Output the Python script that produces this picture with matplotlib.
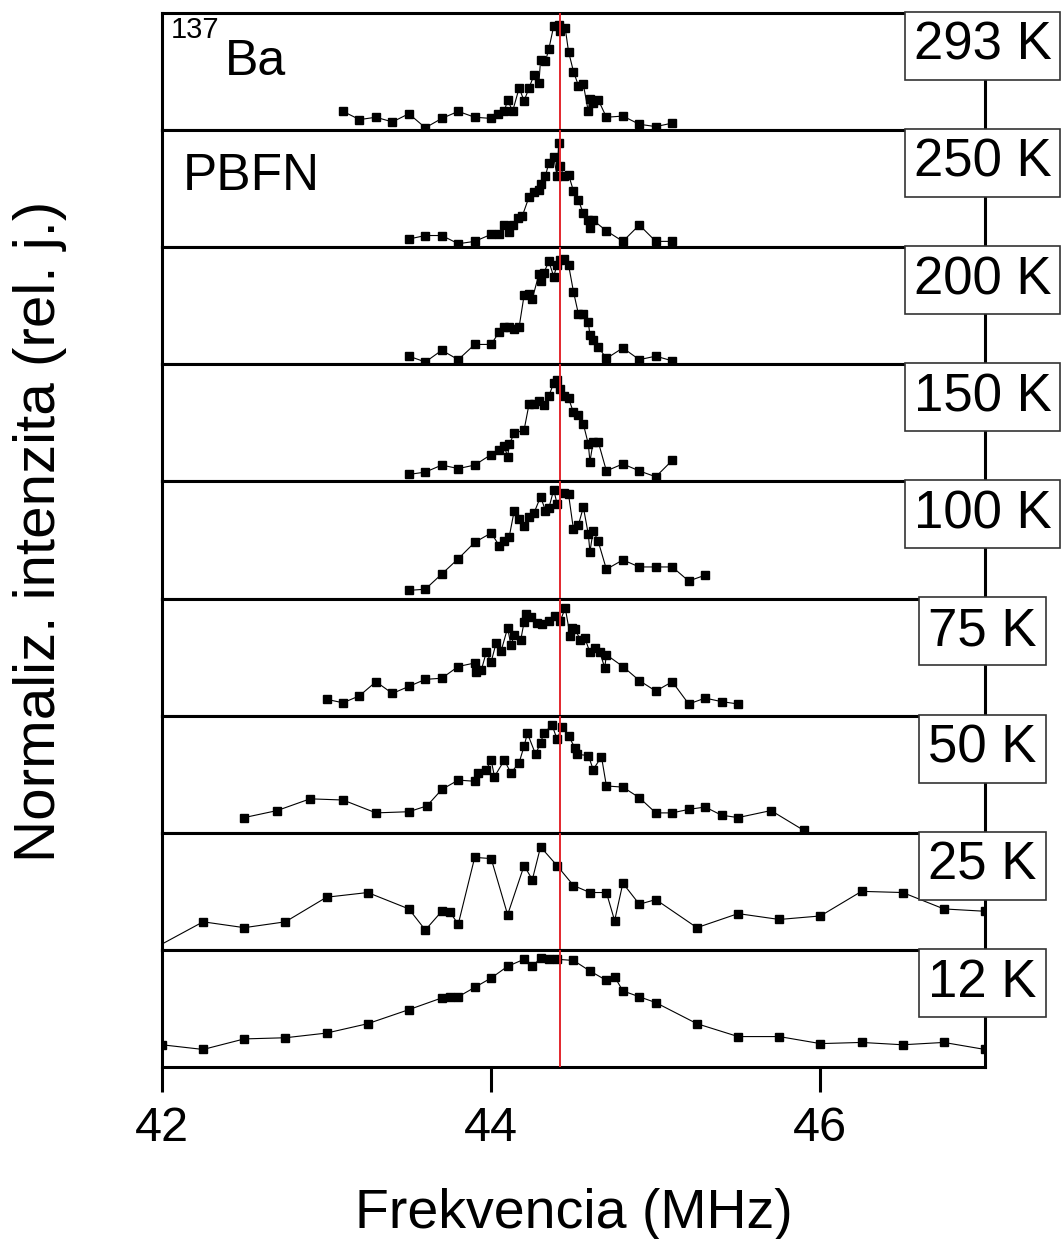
import matplotlib
matplotlib.use("Agg")
import matplotlib.pyplot as plt

plt.rcParams['font.family'] = ['Liberation Sans', 'DejaVu Sans']

# data (frequency in MHz, normalized intensity 0..1)
temps = ["293 K", "250 K", "200 K", "150 K", "100 K", "75 K", "50 K", "25 K", "12 K"]

f293 = [43.10, 43.20, 43.30, 43.40, 43.50, 43.60, 43.70, 43.80, 43.90, 44.00,
        44.04, 44.08, 44.10, 44.13, 44.17, 44.20, 44.23, 44.26, 44.29, 44.30,
        44.33, 44.35, 44.38, 44.41, 44.42, 44.45, 44.47, 44.50, 44.53, 44.56,
        44.59, 44.60, 44.62, 44.65, 44.70, 44.80, 44.90, 45.00, 45.10]
i293 = [0.16, 0.09, 0.11, 0.07, 0.14, 0.02, 0.10, 0.16, 0.11, 0.10,
        0.14, 0.16, 0.26, 0.16, 0.36, 0.25, 0.36, 0.47, 0.40, 0.60,
        0.59, 0.69, 0.89, 0.90, 0.85, 0.87, 0.67, 0.50, 0.38, 0.39,
        0.16, 0.27, 0.23, 0.26, 0.11, 0.12, 0.05, 0.03, 0.06]

f250 = [43.50, 43.60, 43.70, 43.80, 43.90, 44.00, 44.05, 44.08, 44.11, 44.13,
        44.16, 44.19, 44.23, 44.26, 44.29, 44.30, 44.33, 44.35, 44.38, 44.40,
        44.41, 44.42, 44.44, 44.47, 44.50, 44.53, 44.56, 44.59, 44.60, 44.62,
        44.70, 44.80, 44.90, 45.00, 45.10]
i250 = [0.07, 0.10, 0.10, 0.03, 0.05, 0.11, 0.11, 0.19, 0.13, 0.19,
        0.25, 0.27, 0.43, 0.47, 0.49, 0.54, 0.61, 0.72, 0.77, 0.61,
        0.89, 0.69, 0.61, 0.62, 0.48, 0.40, 0.29, 0.23, 0.16, 0.23,
        0.14, 0.05, 0.19, 0.05, 0.05]

f200 = [43.50, 43.60, 43.70, 43.80, 43.90, 44.00, 44.05, 44.08, 44.11, 44.14,
        44.17, 44.20, 44.23, 44.25, 44.29, 44.30, 44.32, 44.35, 44.38, 44.40,
        44.42, 44.44, 44.47, 44.50, 44.53, 44.56, 44.59, 44.60, 44.62, 44.65,
        44.70, 44.80, 44.90, 45.00, 45.10]
i200 = [0.07, 0.02, 0.12, 0.04, 0.17, 0.17, 0.28, 0.32, 0.32, 0.30,
        0.32, 0.59, 0.60, 0.56, 0.77, 0.71, 0.78, 0.88, 0.75, 0.85,
        0.89, 0.90, 0.85, 0.62, 0.43, 0.43, 0.36, 0.25, 0.21, 0.15,
        0.05, 0.14, 0.04, 0.07, 0.03]

f150 = [43.50, 43.60, 43.70, 43.80, 43.90, 44.00, 44.05, 44.08, 44.10, 44.11,
        44.14, 44.20, 44.23, 44.26, 44.29, 44.32, 44.35, 44.38, 44.40, 44.42,
        44.44, 44.47, 44.50, 44.53, 44.56, 44.59, 44.60, 44.62, 44.65, 44.70,
        44.80, 44.90, 45.00, 45.10]
i150 = [0.06, 0.08, 0.14, 0.11, 0.14, 0.23, 0.27, 0.30, 0.21, 0.32,
        0.41, 0.44, 0.66, 0.66, 0.69, 0.65, 0.73, 0.84, 0.87, 0.79,
        0.73, 0.71, 0.59, 0.57, 0.49, 0.32, 0.17, 0.34, 0.34, 0.09,
        0.15, 0.09, 0.04, 0.18]

f100 = [43.50, 43.60, 43.70, 43.80, 43.90, 44.00, 44.05, 44.08, 44.11, 44.14,
        44.17, 44.20, 44.23, 44.26, 44.30, 44.33, 44.35, 44.38, 44.40, 44.44,
        44.47, 44.50, 44.53, 44.56, 44.59, 44.60, 44.62, 44.65, 44.70, 44.80,
        44.90, 45.00, 45.10, 45.20, 45.30]
i100 = [0.07, 0.08, 0.21, 0.34, 0.48, 0.56, 0.45, 0.49, 0.53, 0.75,
        0.68, 0.62, 0.70, 0.73, 0.87, 0.75, 0.77, 0.93, 0.81, 0.90,
        0.89, 0.59, 0.63, 0.78, 0.55, 0.40, 0.58, 0.49, 0.25, 0.33,
        0.27, 0.27, 0.27, 0.15, 0.20]

f75 = [43.00, 43.10, 43.20, 43.30, 43.40, 43.50, 43.60, 43.70, 43.80, 43.90,
       43.91, 43.94, 43.97, 44.00, 44.03, 44.06, 44.10, 44.12, 44.14, 44.18,
       44.20, 44.21, 44.24, 44.28, 44.31, 44.35, 44.39, 44.42, 44.45, 44.48,
       44.49, 44.51, 44.54, 44.57, 44.60, 44.63, 44.66, 44.69, 44.70, 44.80,
       44.90, 45.00, 45.10, 45.20, 45.30, 45.40, 45.50]
i75 = [0.14, 0.11, 0.17, 0.29, 0.19, 0.25, 0.31, 0.32, 0.42, 0.45,
       0.37, 0.39, 0.54, 0.46, 0.62, 0.55, 0.75, 0.60, 0.69, 0.65,
       0.80, 0.87, 0.84, 0.79, 0.78, 0.81, 0.85, 0.81, 0.92, 0.68,
       0.75, 0.74, 0.65, 0.66, 0.54, 0.58, 0.54, 0.41, 0.52, 0.42,
       0.30, 0.21, 0.29, 0.10, 0.15, 0.12, 0.10]

f50 = [42.50, 42.70, 42.90, 43.10, 43.30, 43.50, 43.61, 43.70, 43.80, 43.90,
       43.92, 43.97, 44.00, 44.02, 44.08, 44.12, 44.17, 44.20, 44.22, 44.27,
       44.30, 44.32, 44.37, 44.40, 44.43, 44.47, 44.51, 44.52, 44.59, 44.62,
       44.67, 44.70, 44.80, 44.90, 45.00, 45.10, 45.20, 45.30, 45.40, 45.50,
       45.70, 45.90]
i50 = [0.13, 0.19, 0.29, 0.28, 0.17, 0.18, 0.23, 0.37, 0.45, 0.44,
       0.51, 0.54, 0.62, 0.48, 0.62, 0.51, 0.60, 0.74, 0.85, 0.67,
       0.77, 0.85, 0.92, 0.80, 0.90, 0.83, 0.72, 0.67, 0.66, 0.54,
       0.65, 0.40, 0.39, 0.30, 0.17, 0.17, 0.20, 0.22, 0.15, 0.13,
       0.19, 0.02]

f25 = [41.75, 42.25, 42.50, 42.75, 43.00, 43.25, 43.50, 43.60, 43.70, 43.75,
       43.80, 43.90, 44.00, 44.10, 44.20, 44.25, 44.30, 44.40, 44.50, 44.60,
       44.70, 44.75, 44.80, 44.90, 45.00, 45.25, 45.50, 45.75, 46.00, 46.25,
       46.50, 46.75, 47.00]
i25 = [-0.14, 0.24, 0.19, 0.24, 0.45, 0.49, 0.35, 0.17, 0.33, 0.32,
       0.22, 0.79, 0.78, 0.30, 0.72, 0.60, 0.88, 0.72, 0.55, 0.49,
       0.49, 0.25, 0.57, 0.39, 0.43, 0.19, 0.31, 0.26, 0.29, 0.50,
       0.49, 0.35, 0.33]

f12 = [42.00, 42.25, 42.50, 42.75, 43.00, 43.25, 43.50, 43.70, 43.75, 43.80,
       43.90, 44.00, 44.10, 44.20, 44.25, 44.30, 44.35, 44.40, 44.50, 44.60,
       44.70, 44.75, 44.80, 44.90, 45.00, 45.25, 45.50, 45.75, 46.00, 46.25,
       46.50, 46.75, 47.00]
i12 = [0.19, 0.15, 0.24, 0.25, 0.29, 0.37, 0.49, 0.59, 0.60, 0.60,
       0.68, 0.76, 0.86, 0.92, 0.86, 0.93, 0.92, 0.92, 0.91, 0.82,
       0.74, 0.77, 0.65, 0.60, 0.55, 0.37, 0.26, 0.26, 0.20, 0.21,
       0.19, 0.21, 0.15]

freqs = [f293, f250, f200, f150, f100, f75, f50, f25, f12]
intens = [i293, i250, i200, i150, i100, i75, i50, i25, i12]

F_REF = 44.42   # red reference line
SPINE_W = 2.2

fig, axes = plt.subplots(len(temps), 1, sharex=True, figsize=(10.62, 12.39), dpi=100,
                         gridspec_kw=dict(hspace=0))
fig.subplots_adjust(left=0.1525, right=0.9275, top=0.9895, bottom=0.1388)

for ax, label, x, y in zip(axes, temps, freqs, intens):
    ax.plot(x, y, color="black", lw=0.8, marker="s", ms=5.5, mfc="black", mec="black")
    ax.axvline(F_REF, color="#e3262c", lw=1.4, zorder=3)
    ax.set_xlim(42, 47)
    ax.set_ylim(0, 1)
    ax.set_yticks([])
    for s in ax.spines.values():
        s.set_linewidth(SPINE_W)
    ax.tick_params(axis="x", which="both", bottom=False, top=False, labelbottom=False)
    ax.text(0.997, 0.60, label, transform=ax.transAxes, ha="center", va="baseline",
            fontsize=38, zorder=10, clip_on=False,
            bbox=dict(boxstyle="square,pad=0.17", fc="white", ec="#333333", lw=1.2))

# sample labels in the top two panels
axes[0].text(0.011, 0.786, "137", transform=axes[0].transAxes, ha="left", va="baseline",
             fontsize=21)
axes[0].text(0.0766, 0.47, "Ba", transform=axes[0].transAxes, ha="left", va="baseline",
             fontsize=36)
axes[1].text(0.0255, 0.487, "PBFN", transform=axes[1].transAxes, ha="left", va="baseline",
             fontsize=37)

bottom = axes[-1]
bottom.set_xticks([42, 44, 46])
bottom.tick_params(axis="x", which="major", bottom=True, labelbottom=True, direction="out",
                   length=18, width=SPINE_W, pad=10, labelsize=35)

fig.text(0.5405, 0.009, "Frekvencia (MHz)", ha="center", va="baseline", fontsize=40)
fig.text(0.038, 0.571, "Normaliz. intenzita (rel. j.)", ha="center", va="center",
         rotation=90, fontsize=42)

fig.savefig("out.png", dpi=100)
